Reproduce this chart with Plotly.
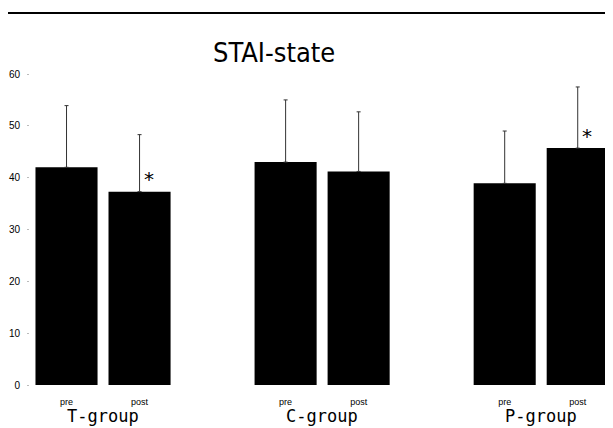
import plotly.graph_objects as go

# Data
groups = ["T-group", "C-group", "P-group"]
phases = ["pre", "post"]
means = [42.0, 37.3, 43.0, 41.2, 38.9, 45.7]
sds = [11.9, 11.0, 12.0, 11.5, 10.1, 11.8]
positions = [0, 1, 3, 4, 6, 7]
tick_labels = ["pre", "post", "pre", "post", "pre", "post"]
y_ticks = [0, 10, 20, 30, 40, 50, 60]
significant = [False, True, False, False, False, True]

fig = go.Figure()
fig.add_trace(go.Bar(
    x=positions, y=means, width=0.85,
    marker=dict(color="black", line=dict(width=0)),
    error_y=dict(type="data", array=sds, arrayminus=[0] * len(sds), symmetric=False,
                 color="#333333", thickness=1, width=2),
    showlegend=False,
))

# Asterisks for significant changes
for p, m, s, sig in zip(positions, means, sds, significant):
    if sig:
        fig.add_annotation(x=p + 0.13, y=m + 2.4, text="*", showarrow=False,
                           font=dict(size=20, color="black", family="DejaVu Sans"),
                           xanchor="center", yanchor="middle")

# Group labels
for i, g in enumerate(groups):
    cx = (positions[2 * i] + positions[2 * i + 1]) / 2
    fig.add_annotation(x=cx, y=-0.099, yref="paper", text=g, showarrow=False,
                       font=dict(size=17, color="black", family="DejaVu Sans Mono"),
                       xanchor="center", yanchor="middle")

# Top rule
fig.add_shape(type="line", xref="paper", yref="paper", x0=-0.043, x1=1.0,
              y0=1.196, y1=1.196, line=dict(color="black", width=2))

fig.update_layout(
    width=605, height=420,
    margin=dict(l=22, r=0, t=66, b=43, autoexpand=False),
    paper_bgcolor="white", plot_bgcolor="white",
    title=dict(text="STAI\u2011state", x=0.44, xanchor="center", y=0.893, yanchor="middle",
               font=dict(size=27, color="black", family="DejaVu Sans Condensed")),
    xaxis=dict(range=[-0.5, 7.483], tickvals=positions, ticktext=tick_labels,
               showgrid=False, zeroline=False, showline=False, ticks="",
               ticklabelstandoff=10,
               tickfont=dict(size=9, color="black", family="Arial")),
    yaxis=dict(range=[0, 60], tickvals=y_ticks, showgrid=False, zeroline=False,
               showline=False, ticks="outside", ticklen=2, tickcolor="#bbbbbb",
               ticklabelstandoff=5,
               tickfont=dict(size=10, color="black", family="Arial")),
    font=dict(family="Arial"),
)

fig.write_html("out.html")
